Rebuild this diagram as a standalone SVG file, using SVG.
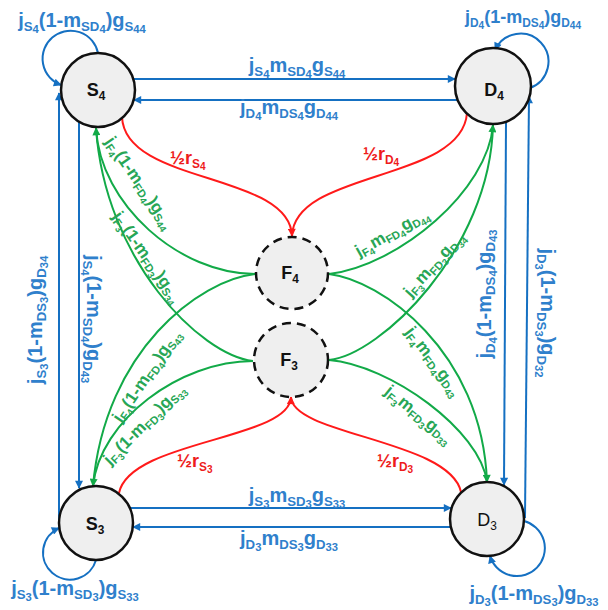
<svg xmlns="http://www.w3.org/2000/svg" width="608" height="610" viewBox="0 0 608 610">
  <style>
    .t{font-family:"Liberation Sans",Arial,sans-serif;font-weight:bold}
    .bt{fill:#2f80cc;font-size:20px}
    .gt{fill:#27a656;font-size:17px}
    .rt{fill:#ee1c1c;font-size:18px}
    .nt{fill:#111;font-size:18px}
    .s{font-size:0.66em}
    .ss{font-size:0.56em}
    .node{fill:#efefef;stroke:#111;stroke-width:2.5}
    .relay{fill:#efefef;stroke:#111;stroke-width:2.5;stroke-dasharray:9 6}
    .bl{fill:none;stroke:#1570c2;stroke-width:2}
    .gl{fill:none;stroke:#12aa48;stroke-width:2}
    .rl{fill:none;stroke:#ff1a1a;stroke-width:2}
  </style>
  <defs>
    <marker id="ab" viewBox="0 0 10 10" refX="9" refY="5" markerWidth="9" markerHeight="8" markerUnits="userSpaceOnUse" orient="auto">
      <path d="M0,0 L10,5 L0,10 z" fill="#1570c2"/>
    </marker>
    <marker id="ag" viewBox="0 0 10 10" refX="9" refY="5" markerWidth="9" markerHeight="8" markerUnits="userSpaceOnUse" orient="auto">
      <path d="M0,0 L10,5 L0,10 z" fill="#12aa48"/>
    </marker>
    <marker id="ar" viewBox="0 0 10 10" refX="9" refY="5" markerWidth="9" markerHeight="8" markerUnits="userSpaceOnUse" orient="auto">
      <path d="M0,0 L10,5 L0,10 z" fill="#ff1a1a"/>
    </marker>
  </defs>

  <!-- connectors -->
  <g id="connectors">
    <!-- blue: direct links -->
    <path class="bl" d="M134,79 L455,79" marker-end="url(#ab)"/>
    <path class="bl" d="M457,100 L134,100" marker-end="url(#ab)"/>
    <path class="bl" d="M130,508 L451,508" marker-end="url(#ab)"/>
    <path class="bl" d="M451,527 L133,527" marker-end="url(#ab)"/>
    <path class="bl" d="M59,522 L59,93" marker-end="url(#ab)"/>
    <path class="bl" d="M79,122 L79,488" marker-end="url(#ab)"/>
    <path class="bl" d="M506,122 L504,485" marker-end="url(#ab)"/>
    <path class="bl" d="M525,518 L529,96" marker-end="url(#ab)"/>
    <!-- blue: self loops -->
    <path class="bl" d="M98,53 A28,28 0 1 0 61,85" marker-end="url(#ab)"/>
    <path class="bl" d="M530,88 A28,28 0 1 0 495,50" marker-end="url(#ab)"/>
    <path class="bl" d="M96,560 A27,27 0 1 1 59,528" marker-end="url(#ab)"/>
    <path class="bl" d="M524,521 A28,28 0 1 1 490,556" marker-end="url(#ab)"/>
    <!-- red: source/destination to relays -->
    <path class="rl" d="M122,117 C125,185 290,172 292,236" marker-end="url(#ar)"/>
    <path class="rl" d="M467,113 C462,182 294,170 292,236"/>
    <path class="rl" d="M119,493 C130,440 290,440 291,397" marker-end="url(#ar)"/>
    <path class="rl" d="M461,492 C450,440 292,435 291,397"/>
    <!-- green: relays to sources -->
    <path class="gl" d="M255,274 C180,274 100,205 96,128" marker-end="url(#ag)"/>
    <path class="gl" d="M253,361 C200,355 105,260 96,128"/>
    <path class="gl" d="M255,274 C200,280 105,350 93,486" marker-end="url(#ag)"/>
    <path class="gl" d="M253,361 C180,361 100,420 93,486"/>
    <!-- green: relays to destinations -->
    <path class="gl" d="M329,274 C400,265 488,190 493,125" marker-end="url(#ag)"/>
    <path class="gl" d="M329,360 C380,355 490,250 493,125"/>
    <path class="gl" d="M329,274 C380,280 482,350 487,482" marker-end="url(#ag)"/>
    <path class="gl" d="M329,360 C390,365 480,430 487,482"/>
  </g>

  <!-- nodes -->
  <g id="S4">
    <circle class="node" cx="98" cy="90" r="37"/>
    <text class="t nt" x="96" y="96" text-anchor="middle">S<tspan class="s" dy="4">4</tspan></text>
  </g>
  <g id="D4">
    <circle class="node" cx="493" cy="86" r="38"/>
    <text class="t nt" x="494" y="96" text-anchor="middle">D<tspan class="s" dy="4">4</tspan></text>
  </g>
  <g id="S3">
    <circle class="node" cx="96" cy="523" r="37"/>
    <text class="t nt" x="95" y="530" text-anchor="middle">S<tspan class="s" dy="4">3</tspan></text>
  </g>
  <g id="D3">
    <circle class="node" cx="487" cy="519" r="37"/>
    <text class="t nt" x="487" y="526" text-anchor="middle" style="font-weight:normal">D<tspan class="s" dy="4">3</tspan></text>
  </g>
  <g id="F4">
    <circle class="relay" cx="292" cy="273" r="36"/>
    <text class="t nt" x="290" y="279" text-anchor="middle">F<tspan class="s" dy="4">4</tspan></text>
  </g>
  <g id="F3">
    <circle class="relay" cx="291" cy="360" r="37"/>
    <text class="t nt" x="289" y="366" text-anchor="middle">F<tspan class="s" dy="4">3</tspan></text>
  </g>

  <!-- blue link labels -->
  <g id="blue-labels" class="t bt" text-anchor="middle">
    <text x="297" y="72">j<tspan class="s" dy="4">S</tspan><tspan class="ss" dy="2">4</tspan><tspan dy="-6">m</tspan><tspan class="s" dy="4">SD</tspan><tspan class="ss" dy="2">4</tspan><tspan dy="-6">g</tspan><tspan class="s" dy="4">S</tspan><tspan class="ss" dy="2">44</tspan></text>
    <text x="289" y="114">j<tspan class="s" dy="4">D</tspan><tspan class="ss" dy="2">4</tspan><tspan dy="-6">m</tspan><tspan class="s" dy="4">DS</tspan><tspan class="ss" dy="2">4</tspan><tspan dy="-6">g</tspan><tspan class="s" dy="4">D</tspan><tspan class="ss" dy="2">44</tspan></text>
    <text x="297" y="502">j<tspan class="s" dy="4">S</tspan><tspan class="ss" dy="2">3</tspan><tspan dy="-6">m</tspan><tspan class="s" dy="4">SD</tspan><tspan class="ss" dy="2">3</tspan><tspan dy="-6">g</tspan><tspan class="s" dy="4">S</tspan><tspan class="ss" dy="2">33</tspan></text>
    <text x="289" y="545">j<tspan class="s" dy="4">D</tspan><tspan class="ss" dy="2">3</tspan><tspan dy="-6">m</tspan><tspan class="s" dy="4">DS</tspan><tspan class="ss" dy="2">3</tspan><tspan dy="-6">g</tspan><tspan class="s" dy="4">D</tspan><tspan class="ss" dy="2">33</tspan></text>
    <!-- self-loop labels -->
    <text x="82" y="27">j<tspan class="s" dy="4">S</tspan><tspan class="ss" dy="2">4</tspan><tspan dy="-6">(1-m</tspan><tspan class="s" dy="4">SD</tspan><tspan class="ss" dy="2">4</tspan><tspan dy="-6">)g</tspan><tspan class="s" dy="4">S</tspan><tspan class="ss" dy="2">44</tspan></text>
    <text x="523" y="23" style="font-size:18px">j<tspan class="s" dy="4">D</tspan><tspan class="ss" dy="2">4</tspan><tspan dy="-6">(1-m</tspan><tspan class="s" dy="4">DS</tspan><tspan class="ss" dy="2">4</tspan><tspan dy="-6">)g</tspan><tspan class="s" dy="4">D</tspan><tspan class="ss" dy="2">44</tspan></text>
    <text x="75" y="595">j<tspan class="s" dy="4">S</tspan><tspan class="ss" dy="2">3</tspan><tspan dy="-6">(1-m</tspan><tspan class="s" dy="4">SD</tspan><tspan class="ss" dy="2">3</tspan><tspan dy="-6">)g</tspan><tspan class="s" dy="4">S</tspan><tspan class="ss" dy="2">33</tspan></text>
    <text x="534" y="600">j<tspan class="s" dy="4">D</tspan><tspan class="ss" dy="2">3</tspan><tspan dy="-6">(1-m</tspan><tspan class="s" dy="4">DS</tspan><tspan class="ss" dy="2">3</tspan><tspan dy="-6">)g</tspan><tspan class="s" dy="4">D</tspan><tspan class="ss" dy="2">33</tspan></text>
    <!-- vertical link labels -->
    <text transform="translate(42,320) rotate(-90)">j<tspan class="s" dy="4">S</tspan><tspan class="ss" dy="2">3</tspan><tspan dy="-6">(1-m</tspan><tspan class="s" dy="4">DS</tspan><tspan class="ss" dy="2">3</tspan><tspan dy="-6">)g</tspan><tspan class="s" dy="4">D</tspan><tspan class="ss" dy="2">34</tspan></text>
    <text transform="translate(87,319) rotate(90)">j<tspan class="s" dy="4">S</tspan><tspan class="ss" dy="2">4</tspan><tspan dy="-6">(1-m</tspan><tspan class="s" dy="4">SD</tspan><tspan class="ss" dy="2">4</tspan><tspan dy="-6">)g</tspan><tspan class="s" dy="4">D</tspan><tspan class="ss" dy="2">43</tspan></text>
    <text transform="translate(491,294) rotate(-90)">j<tspan class="s" dy="4">D</tspan><tspan class="ss" dy="2">4</tspan><tspan dy="-6">(1-m</tspan><tspan class="s" dy="4">DS</tspan><tspan class="ss" dy="2">4</tspan><tspan dy="-6">)g</tspan><tspan class="s" dy="4">D</tspan><tspan class="ss" dy="2">43</tspan></text>
    <text transform="translate(541,313) rotate(90)">j<tspan class="s" dy="4">D</tspan><tspan class="ss" dy="2">3</tspan><tspan dy="-6">(1-m</tspan><tspan class="s" dy="4">DS</tspan><tspan class="ss" dy="2">3</tspan><tspan dy="-6">)g</tspan><tspan class="s" dy="4">D</tspan><tspan class="ss" dy="2">32</tspan></text>
  </g>

  <!-- red labels -->
  <g id="red-labels" class="t rt">
    <text x="170" y="164">½r<tspan class="s" dy="4">S</tspan><tspan class="ss" dy="2">4</tspan></text>
    <text x="363" y="160">½r<tspan class="s" dy="4">D</tspan><tspan class="ss" dy="2">4</tspan></text>
    <text x="177" y="467">½r<tspan class="s" dy="4">S</tspan><tspan class="ss" dy="2">3</tspan></text>
    <text x="377" y="467">½r<tspan class="s" dy="4">D</tspan><tspan class="ss" dy="2">3</tspan></text>
  </g>

  <!-- green labels -->
  <g id="green-labels" class="t gt" text-anchor="middle">
    <text y="4" transform="translate(138.5,183.5) rotate(55.5)">j<tspan class="s" dy="3">F</tspan><tspan class="ss" dy="2">4</tspan><tspan dy="-5">(1-m</tspan><tspan class="s" dy="3">FD</tspan><tspan class="ss" dy="2">4</tspan><tspan dy="-5">)g</tspan><tspan class="s" dy="3">S</tspan><tspan class="ss" dy="2">44</tspan></text>
    <text y="4" transform="translate(146,258) rotate(55)">j<tspan class="s" dy="3">F</tspan><tspan class="ss" dy="2">3</tspan><tspan dy="-5">(1-m</tspan><tspan class="s" dy="3">FD</tspan><tspan class="ss" dy="2">3</tspan><tspan dy="-5">)g</tspan><tspan class="s" dy="3">S</tspan><tspan class="ss" dy="2">34</tspan></text>
    <text y="4" transform="translate(147.5,376.5) rotate(-56)">j<tspan class="s" dy="3">F</tspan><tspan class="ss" dy="2">4</tspan><tspan dy="-5">(1-m</tspan><tspan class="s" dy="3">FD</tspan><tspan class="ss" dy="2">4</tspan><tspan dy="-5">)g</tspan><tspan class="s" dy="3">S</tspan><tspan class="ss" dy="2">43</tspan></text>
    <text y="4" transform="translate(145,425) rotate(-45)">j<tspan class="s" dy="3">F</tspan><tspan class="ss" dy="2">3</tspan><tspan dy="-5">(1-m</tspan><tspan class="s" dy="3">FD</tspan><tspan class="ss" dy="2">3</tspan><tspan dy="-5">)g</tspan><tspan class="s" dy="3">S</tspan><tspan class="ss" dy="2">33</tspan></text>
    <text y="4" transform="translate(392.5,233.5) rotate(-29.5)">j<tspan class="s" dy="3">F</tspan><tspan class="ss" dy="2">4</tspan><tspan dy="-5">m</tspan><tspan class="s" dy="3">FD</tspan><tspan class="ss" dy="2">4</tspan><tspan dy="-5">g</tspan><tspan class="s" dy="3">D</tspan><tspan class="ss" dy="2">44</tspan></text>
    <text y="4" transform="translate(435,265) rotate(-48)">j<tspan class="s" dy="3">F</tspan><tspan class="ss" dy="2">3</tspan><tspan dy="-5">m</tspan><tspan class="s" dy="3">FD</tspan><tspan class="ss" dy="2">3</tspan><tspan dy="-5">g</tspan><tspan class="s" dy="3">D</tspan><tspan class="ss" dy="2">34</tspan></text>
    <text y="4" transform="translate(432.5,362) rotate(53)">j<tspan class="s" dy="3">F</tspan><tspan class="ss" dy="2">4</tspan><tspan dy="-5">m</tspan><tspan class="s" dy="3">FD</tspan><tspan class="ss" dy="2">4</tspan><tspan dy="-5">g</tspan><tspan class="s" dy="3">D</tspan><tspan class="ss" dy="2">43</tspan></text>
    <text y="4" transform="translate(418,415.5) rotate(39)">j<tspan class="s" dy="3">F</tspan><tspan class="ss" dy="2">3</tspan><tspan dy="-5">m</tspan><tspan class="s" dy="3">FD</tspan><tspan class="ss" dy="2">3</tspan><tspan dy="-5">g</tspan><tspan class="s" dy="3">D</tspan><tspan class="ss" dy="2">33</tspan></text>
  </g>
</svg>
